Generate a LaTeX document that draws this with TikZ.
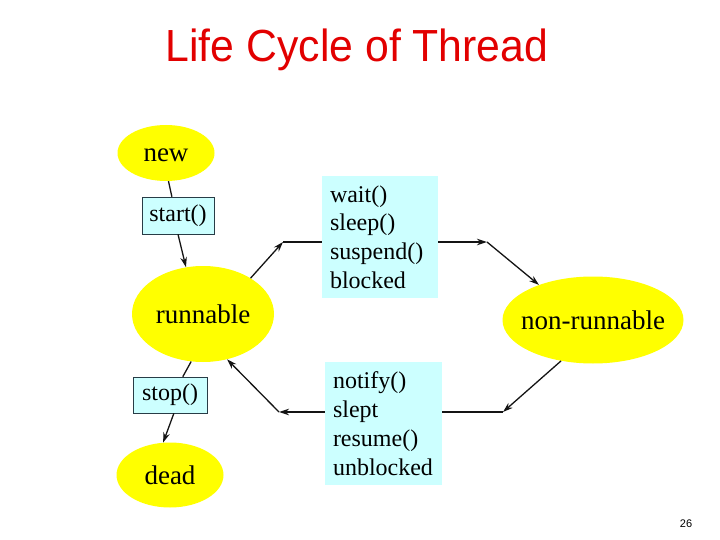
\documentclass[tikz,border=0pt]{standalone}
\usepackage{fontspec}
\setmainfont{Liberation Serif}
\setsansfont{Liberation Sans}
\newfontfamily\titlefont[FakeStretch=0.95]{Liberation Sans}
\usepackage{xcolor}
\usepackage{tikz}
\usetikzlibrary{shapes.geometric, arrows.meta}
\definecolor{myred}{RGB}{226,0,0}
\definecolor{mydark}{RGB}{20,20,20}
\definecolor{myyellow}{RGB}{255,255,0}
\definecolor{hdrcyan}{RGB}{204,255,255}
\definecolor{myborder}{RGB}{40,60,70}
\tikzset{
  state/.style={ellipse, fill=myyellow, inner sep=0pt, text height=18pt, text depth=0pt,
    font=\fontsize{27}{32}\selectfont},
  callbox/.style={rectangle, draw=myborder, fill=hdrcyan, inner sep=0pt,
    line width=0.6pt, font=\fontsize{24}{28.8}\selectfont},
  eventbox/.style={rectangle, fill=hdrcyan, inner xsep=8pt, inner ysep=0pt,
    align=left, font=\fontsize{24}{28.8}\selectfont},
  arrow/.style={-{Stealth[length=10pt,width=6.5pt]}, line width=1.3pt, color=mydark},
  line/.style={line width=1.3pt, color=mydark}
}

\begin{document}
\begin{tikzpicture}[x=1pt, y=-1pt]
  \useasboundingbox (0,0) rectangle (720,540);

  \node[font=\titlefont\fontsize{45}{50}\selectfont, text=myred, anchor=base] (title) at (357,62) {Life Cycle of Thread};

  % states
  \node[state, minimum width=97pt, minimum height=56pt] (new) at (166,153) {new};
  \node[state, minimum width=142pt, minimum height=96pt] (runnable) at (203,314) {runnable};
  \node[state, minimum width=181pt, minimum height=87pt, inner xsep=-12pt] (nonrun) at (593,320) {non-runnable};
  \node[state, minimum width=107pt, minimum height=65pt] (dead) at (170,475) {dead};

  % calls
  \node[callbox, minimum width=72pt, minimum height=37pt] (start) at (178,215.5) {start()};
  \node[callbox, minimum width=74pt, minimum height=36pt] (stop) at (170,395) {stop()};
  \node[eventbox, minimum width=116pt, minimum height=122pt, text width=100pt] (block) at (380,237)
    {wait()\\sleep()\\suspend()\\blocked};
  \node[eventbox, minimum width=117pt, minimum height=123pt, text width=101pt] (unblock) at (383.5,423.5)
    {notify()\\slept\\resume()\\unblocked};

  \coordinate (c1) at (283,242);
  \coordinate (c2) at (487,242);
  \coordinate (c3) at (503,412);
  \coordinate (c4) at (279,412);

  \draw[line] (new.275) -- (start.108);
  \draw[arrow] (start.south) -- (runnable.110);

  \draw[arrow] (runnable.37) -- (c1);
  \draw[line] (c1) -- (c1 -| block.west);
  \draw[arrow] (c2 -| block.east) -- (c2);
  \draw[arrow] (c2) -- (nonrun.147);

  \draw[arrow] (nonrun.232) -- (c3);
  \draw[line] (c3) -- (c3 -| unblock.east);
  \draw[arrow] (c4 -| unblock.west) -- (c4);
  \draw[arrow] (c4) -- (runnable.298);

  \draw[line] (runnable.256) -- (stop.55);
  \draw[arrow] (stop.-78) -- (dead.102);

  \node[font=\sffamily\fontsize{11}{13}\selectfont] (page) at (686,524) {26};
\end{tikzpicture}
\end{document}
